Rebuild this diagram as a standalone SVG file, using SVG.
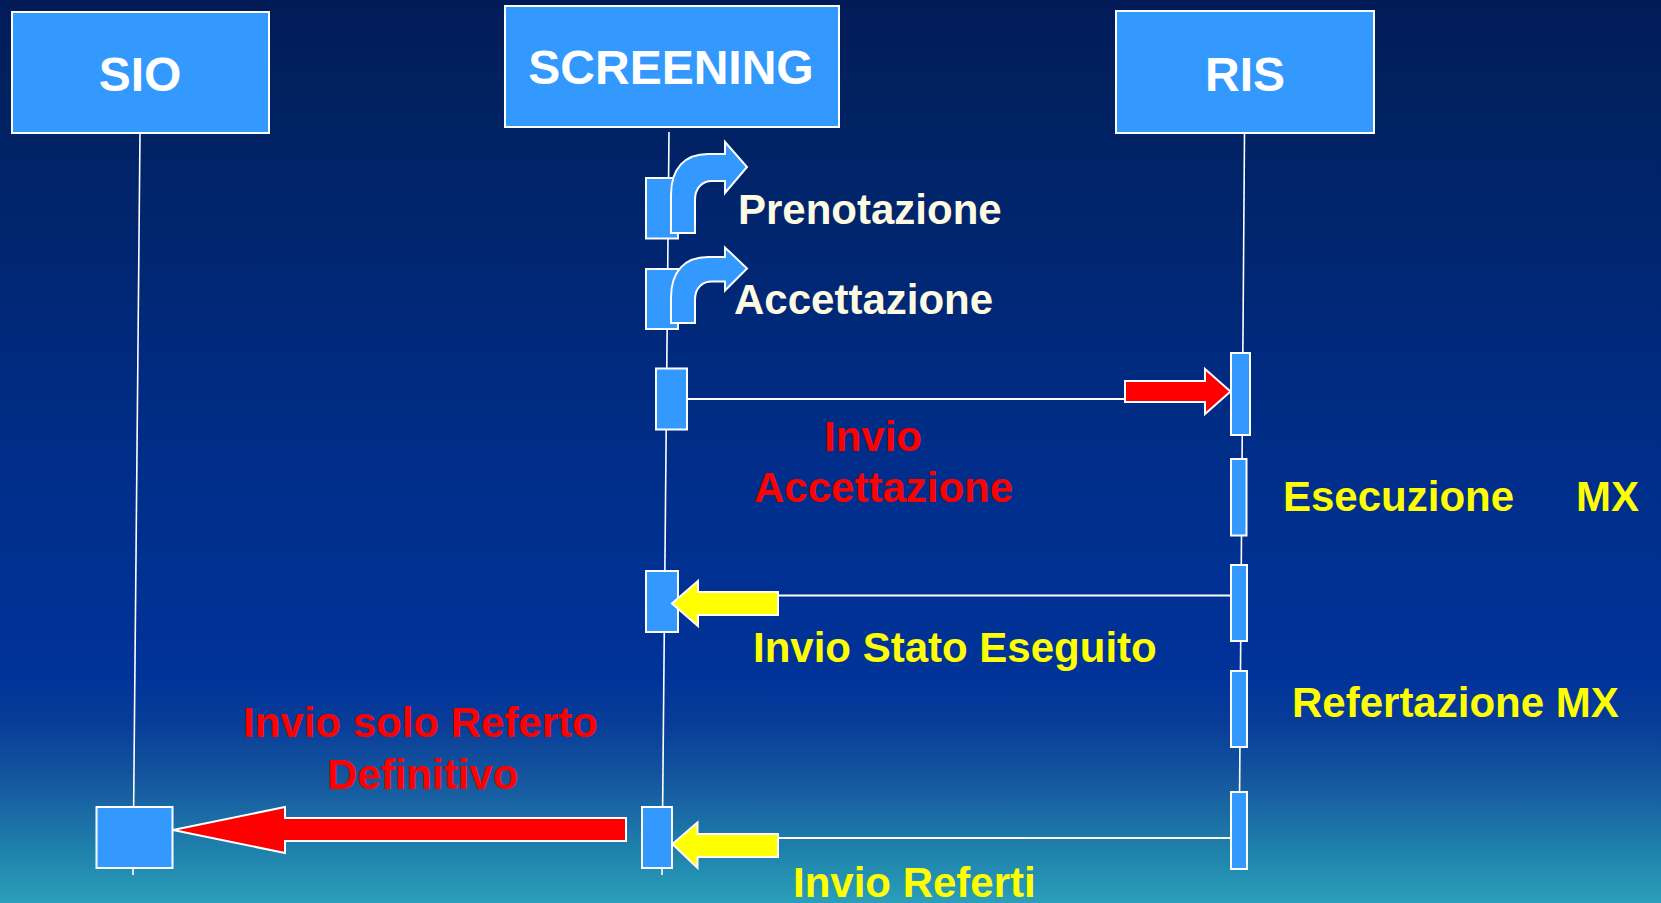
<svg xmlns="http://www.w3.org/2000/svg" width="1661" height="903" viewBox="0 0 1661 903">
  <defs>
    <linearGradient id="bg" x1="0" y1="0" x2="0" y2="1">
      <stop offset="0" stop-color="#011b57"/>
      <stop offset="0.1" stop-color="#01215f"/>
      <stop offset="0.5" stop-color="#002d88"/>
      <stop offset="0.75" stop-color="#003399"/>
      <stop offset="0.8" stop-color="#083c98"/>
      <stop offset="0.87" stop-color="#165aa0"/>
      <stop offset="0.94" stop-color="#1f80ab"/>
      <stop offset="1" stop-color="#2a9fba"/>
    </linearGradient>
    <style>
      .box { fill: #3399ff; stroke: #ffffff; stroke-width: 2; }
      .life { stroke: #ffffff; stroke-width: 1.6; fill: none; }
      .msg { stroke: #ffffff; stroke-width: 2; fill: none; }
      .head { font-family: "Liberation Sans", Arial, sans-serif; font-weight: bold; font-size: 48px; fill: #ffffff; text-anchor: middle; }
      .lbl { font-family: "Liberation Sans", Arial, sans-serif; font-weight: bold; font-size: 42px; }
      .cream { fill: #fffbe2; }
      .red { fill: #ff0000; }
      .yel { fill: #ffff00; }
      .ar { stroke: #ffffff; stroke-width: 2; stroke-linejoin: miter; }
      .ared { fill: #ff0000; }
      .ayel { fill: #ffff00; }
      .ablue { fill: #3399ff; }
    </style>
  </defs>
  <rect x="0" y="0" width="1661" height="903" fill="url(#bg)"/>

  <g id="lifelines">
    <line class="life" x1="140" y1="133" x2="133" y2="875"/>
    <line class="life" x1="669" y1="132" x2="662" y2="875"/>
    <line class="life" x1="1244.5" y1="133" x2="1239" y2="870"/>
  </g>

  <g id="SIO">
    <rect class="box" x="12" y="12" width="257" height="121"/>
    <text class="head" x="140" y="91">SIO</text>
  </g>
  <g id="SCREENING">
    <rect class="box" x="505" y="6" width="334" height="121"/>
    <text class="head" x="671" y="84">SCREENING</text>
  </g>
  <g id="RIS">
    <rect class="box" x="1116" y="11" width="258" height="122"/>
    <text class="head" x="1245" y="91">RIS</text>
  </g>

  <g id="SIO-activation">
    <rect class="box" x="96.5" y="807" width="76" height="61"/>
  </g>
  <g id="SCREENING-activations">
    <rect class="box" x="646" y="178" width="32" height="60.5"/>
    <rect class="box" x="646" y="269" width="32" height="60"/>
    <rect class="box" x="656" y="368.5" width="31" height="61"/>
    <rect class="box" x="646" y="571" width="32" height="61"/>
    <rect class="box" x="642" y="807" width="30" height="61"/>
  </g>
  <g id="RIS-activations">
    <rect class="box" x="1231" y="353" width="19" height="82"/>
    <rect class="box" x="1231" y="459" width="15.5" height="76.5"/>
    <rect class="box" x="1231" y="565" width="16" height="76"/>
    <rect class="box" x="1231" y="671" width="16" height="76"/>
    <rect class="box" x="1231" y="792" width="16" height="77"/>
  </g>

  <g id="connectors">
    <path class="ar ablue" d="M671,233 L671,195 C671,168 685,154 708,154 L725,154 L725,142 L747,167 L725,193 L725,181 L712,181 C702,181 695,188 695,200 L695,233 Z"/>
    <path class="ar ablue" d="M671,323 L671,298 C671,271 685,257 708,257 L725,257 L725,247.5 L747,268.5 L725,290.5 L725,281.5 L712,281.5 C702,281.5 695,288 695,300 L695,323 Z"/>

    <line class="msg" x1="687" y1="399" x2="1125" y2="399"/>
    <path class="ar ared" d="M1125,381 L1205,381 L1205,369 L1230.5,391.5 L1205,414 L1205,402 L1125,402 Z"/>

    <line class="msg" x1="1231" y1="595.5" x2="778" y2="595.5"/>
    <path class="ar ayel" d="M778,592 L698,592 L698,581 L672,603.5 L698,626 L698,615 L778,615 Z"/>

    <line class="msg" x1="1231" y1="838" x2="778" y2="838"/>
    <path class="ar ayel" d="M778,834 L697.5,834 L697.5,822.5 L672.5,844 L697.5,868 L697.5,857 L778,857 Z"/>

    <path class="ar ared" d="M626,818 L285,818 L285,807 L173,830 L285,853 L285,841 L626,841 Z"/>
  </g>

  <g id="labels">
    <text class="lbl cream" x="738" y="224">Prenotazione</text>
    <text class="lbl cream" x="734" y="314">Accettazione</text>
    <text class="lbl red" x="824" y="451">Invio</text>
    <text class="lbl red" x="754" y="502">Accettazione</text>
    <text class="lbl yel" y="511"><tspan x="1283">Esecuzione</tspan><tspan x="1576">MX</tspan></text>
    <text class="lbl yel" x="753" y="662">Invio Stato Eseguito</text>
    <text class="lbl yel" x="1292" y="717">Refertazione MX</text>
    <text class="lbl red" x="243" y="737">Invio solo Referto</text>
    <text class="lbl red" x="327" y="789">Definitivo</text>
    <text class="lbl yel" x="793" y="897">Invio Referti</text>
  </g>
</svg>
